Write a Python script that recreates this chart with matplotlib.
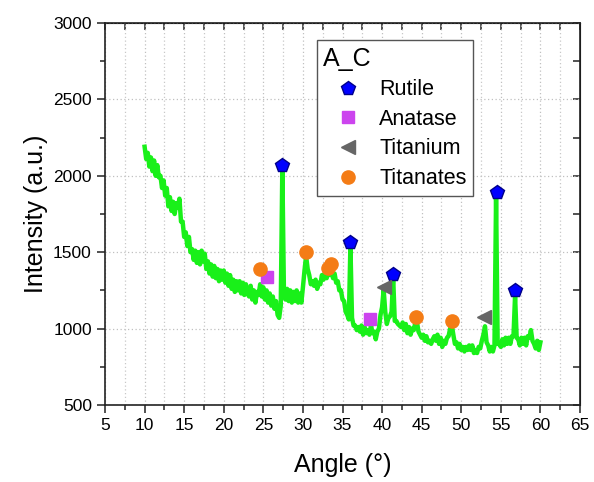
import numpy as np
import matplotlib
matplotlib.use("Agg")
import matplotlib.pyplot as plt
from matplotlib.ticker import MultipleLocator

plt.rcParams['font.family'] = ['Liberation Sans', 'DejaVu Sans']

intensity = [
    2190, 2110, 2150, 2060, 2120, 2030, 2100, 2000, 2070, 1990,
    2000, 1920, 1970, 1870, 1920, 1800, 1860, 1770, 1830, 1750,
    1820, 1790, 1850, 1700, 1700, 1600, 1630, 1540, 1600, 1500,
    1520, 1450, 1510, 1430, 1500, 1420, 1510, 1440, 1490, 1390,
    1440, 1360, 1420, 1340, 1410, 1330, 1390, 1310, 1380, 1320,
    1380, 1300, 1360, 1280, 1350, 1260, 1320, 1240, 1310, 1250,
    1310, 1230, 1300, 1220, 1290, 1230, 1210, 1280, 1190, 1250,
    1170, 1240, 1220, 1290, 1210, 1270, 1190, 1250, 1170, 1230,
    1150, 1210, 1130, 1180, 1090, 1070, 1150, 2060, 1240, 1190,
    1260, 1180, 1250, 1170, 1240, 1180, 1250, 1170, 1230, 1170,
    1270, 1380, 1475, 1390, 1350, 1290, 1310, 1280, 1320, 1260,
    1300, 1290, 1350, 1320, 1370, 1330, 1385, 1350, 1390, 1330,
    1360, 1300, 1310, 1250, 1250, 1190, 1180, 1110, 1090, 1060,
    1545, 1070, 1020, 1020, 990, 1010, 980, 1020, 960, 1010,
    970, 990, 960, 1020, 970, 980, 930, 980, 1000, 1090,
    1140, 1255, 1110, 1030, 1070, 1080, 1110, 1335, 1050, 1050,
    1030, 1020, 1010, 1040, 990, 1030, 970, 1010, 960, 1000,
    990, 1040, 1045, 980, 960, 940, 960, 920, 950, 910,
    920, 900, 930, 950, 920, 960, 900, 940, 880, 920,
    900, 940, 950, 1000, 1025, 960, 900, 910, 870, 900,
    860, 880, 850, 880, 860, 890, 860, 890, 840, 860,
    840, 880, 870, 920, 960, 1015, 910, 890, 850, 880,
    850, 890, 1860, 900, 900, 880, 930, 890, 940, 900,
    940, 900, 950, 950, 1215, 940, 930, 890, 940, 900,
    940, 890, 950, 940, 990, 920, 900, 870, 920, 860, 910,
]
angle = np.linspace(10, 60, len(intensity))

# phase markers
rutile_x = [27.4, 36.0, 41.4, 54.5, 56.8]
rutile_y = [2071, 1568, 1360, 1892, 1253]
anatase_x = [25.5, 38.5]
anatase_y = [1340, 1061]
titanium_x = [40.2, 52.9]
titanium_y = [1270, 1074]
titanates_x = [24.6, 30.35, 33.2, 33.6, 44.3, 48.8]
titanates_y = [1388, 1499, 1399, 1421, 1074, 1052]

fig = plt.figure(figsize=(5.94, 4.82), dpi=100)
ax = fig.add_axes([0.1768, 0.1598, 0.7996, 0.7925])

ax.plot(angle, intensity, color='#19f019', lw=3.2, zorder=3)

ax.plot(rutile_x, rutile_y, 'p', color='#0000ff', mec='#00008a', ms=10.5,
        ls='none', label='Rutile', zorder=4)
ax.plot(anatase_x, anatase_y, 's', color='#cc44ee', mec='#cc44ee', ms=8.5,
        ls='none', label='Anatase', zorder=4)
ax.plot(titanium_x, titanium_y, '<', color='#666666', mec='#666666', ms=9.5,
        ls='none', label='Titanium', zorder=4)
ax.plot(titanates_x, titanates_y, 'o', color='#f47c16', mec='#f47c16', ms=9.5,
        ls='none', label='Titanates', zorder=4)

ax.set_xlim(5, 65)
ax.set_ylim(500, 3000)
ax.xaxis.set_major_locator(MultipleLocator(5))
ax.xaxis.set_minor_locator(MultipleLocator(2.5))
ax.yaxis.set_major_locator(MultipleLocator(500))
ax.yaxis.set_minor_locator(MultipleLocator(250))

ax.grid(which='major', color='#c0c0c0', ls=(0, (1, 2)), lw=0.9, zorder=0)
ax.grid(which='minor', axis='x', color='#c8c8c8', ls=(0, (1, 2)), lw=0.9, zorder=0)

ax.tick_params(which='both', direction='out', top=False, right=False,
               labelsize=12.5, color='#222222', width=1.1)
ax.tick_params(which='major', length=6)
ax.tick_params(which='minor', length=3.5)
for s in ax.spines.values():
    s.set_linewidth(1.2)
    s.set_color('#222222')

# inward ticks on top and right
sec_x = ax.secondary_xaxis('top')
sec_x.xaxis.set_major_locator(MultipleLocator(5))
sec_x.xaxis.set_minor_locator(MultipleLocator(2.5))
sec_x.tick_params(which='both', direction='in', labeltop=False, length=5,
                  width=1.1, color='#222222')
sec_y = ax.secondary_yaxis('right')
sec_y.yaxis.set_major_locator(MultipleLocator(500))
sec_y.yaxis.set_minor_locator(MultipleLocator(250))
sec_y.tick_params(which='both', direction='in', labelright=False, length=5,
                  width=1.1, color='#222222')

ax.set_xlabel('Angle (°)', fontsize=18, labelpad=14)
ax.set_ylabel('Intensity (a.u.)', fontsize=18, labelpad=4)

leg = ax.legend(loc='upper left', bbox_to_anchor=(0.446, 0.955), borderaxespad=0,
                title='A_C', fontsize=15.5, title_fontsize=18, fancybox=False,
                framealpha=1, edgecolor='#555555', alignment='left',
                handletextpad=0.3, handlelength=2.3, labelspacing=0.4,
                borderpad=0.3)
leg.get_frame().set_linewidth(1.0)

fig.savefig('out.png', dpi=100)
